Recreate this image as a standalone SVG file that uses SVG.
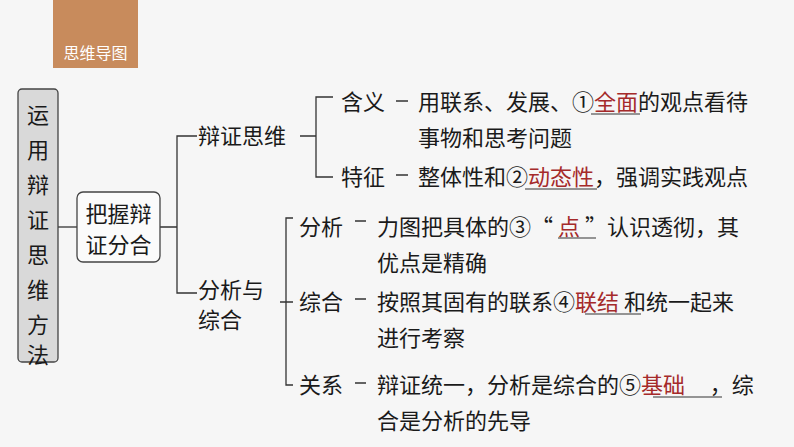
<svg xmlns="http://www.w3.org/2000/svg" width="794" height="447" viewBox="0 0 794 447">
<style>
text{font-family:"Noto Sans CJK SC","Liberation Sans",sans-serif;font-size:22px;fill:#1a1a1a}
.r{fill:#a52a2a}
.c line,.c path{stroke:#333;stroke-width:1.3;fill:none}
.u{stroke:#333;stroke-width:1.2}
</style>
<rect width="794" height="447" fill="#f6f6f6"/>
<g id="title"><rect x="53" y="0" width="85" height="68" fill="#c88b5c"/><text x="95.5" y="59" text-anchor="middle" style="fill:#fff;font-size:16px">思维导图</text></g>
<g class="c" id="connectors">
<line x1="58" y1="227" x2="77" y2="227"/>
<path d="M160 227H177M197 136H177V293H197"/>
<path d="M300 136H316M333 97H316V177H333"/>
<path d="M293 218H286V385H293M280 302H293"/>
<path d="M396 101H408M396 175H408M355 221H366M355 299H366M355 383H366"/>
</g>
<g id="root"><rect x="18" y="89" width="40" height="273" rx="4" fill="#d9d9d9" stroke="#444" stroke-width="1.3"/>
<text x="38" y="123" text-anchor="middle">运</text><text x="38" y="158" text-anchor="middle">用</text><text x="38" y="193" text-anchor="middle">辩</text><text x="38" y="228" text-anchor="middle">证</text><text x="38" y="263" text-anchor="middle">思</text><text x="38" y="298" text-anchor="middle">维</text><text x="38" y="333" text-anchor="middle">方</text><text x="38" y="363" text-anchor="middle">法</text></g>
<g id="grasp"><rect x="77" y="192" width="83" height="70" rx="6" fill="#fbfbfb" stroke="#444" stroke-width="1.3"/><text x="118.5" y="222" text-anchor="middle">把握辩</text><text x="118.5" y="253" text-anchor="middle">证分合</text></g>
<g id="bz"><text x="198" y="144">辩证思维</text></g>
<g id="hy"><text x="341" y="110">含义</text><text x="418" y="110">用联系、发展、①<tspan class="r">全面</tspan>的观点看待</text><text x="418" y="146">事物和思考问题</text><line class="u" x1="591" y1="114" x2="640" y2="114"/></g>
<g id="tz"><text x="341" y="185">特征</text><text x="418" y="185">整体性和②<tspan class="r">动态性</tspan>，强调实践观点</text><line class="u" x1="525" y1="189" x2="597" y2="189"/></g>
<g id="fxzh"><text x="198" y="298">分析与</text><text x="198" y="328">综合</text></g>
<g id="fx"><text x="299" y="235">分析</text><text x="377" y="235" xml:space="preserve">力图把具体的③“ <tspan class="r">点</tspan> ”认识透彻，其</text><text x="377" y="271">优点是精确</text><line class="u" x1="558" y1="238" x2="596" y2="238"/></g>
<g id="zh"><text x="299" y="310">综合</text><text x="377" y="310" xml:space="preserve">按照其固有的联系④<tspan class="r">联结</tspan> 和统一起来</text><text x="377" y="346">进行考察</text><line class="u" x1="585" y1="314" x2="641" y2="314"/></g>
<g id="gx"><text x="299" y="393">关系</text><text x="377" y="393" xml:space="preserve">辩证统一，分析是综合的⑤<tspan class="r">基础</tspan>     ，综</text><text x="377" y="429">合是分析的先导</text><line class="u" x1="653" y1="397" x2="722" y2="397"/></g>
</svg>
